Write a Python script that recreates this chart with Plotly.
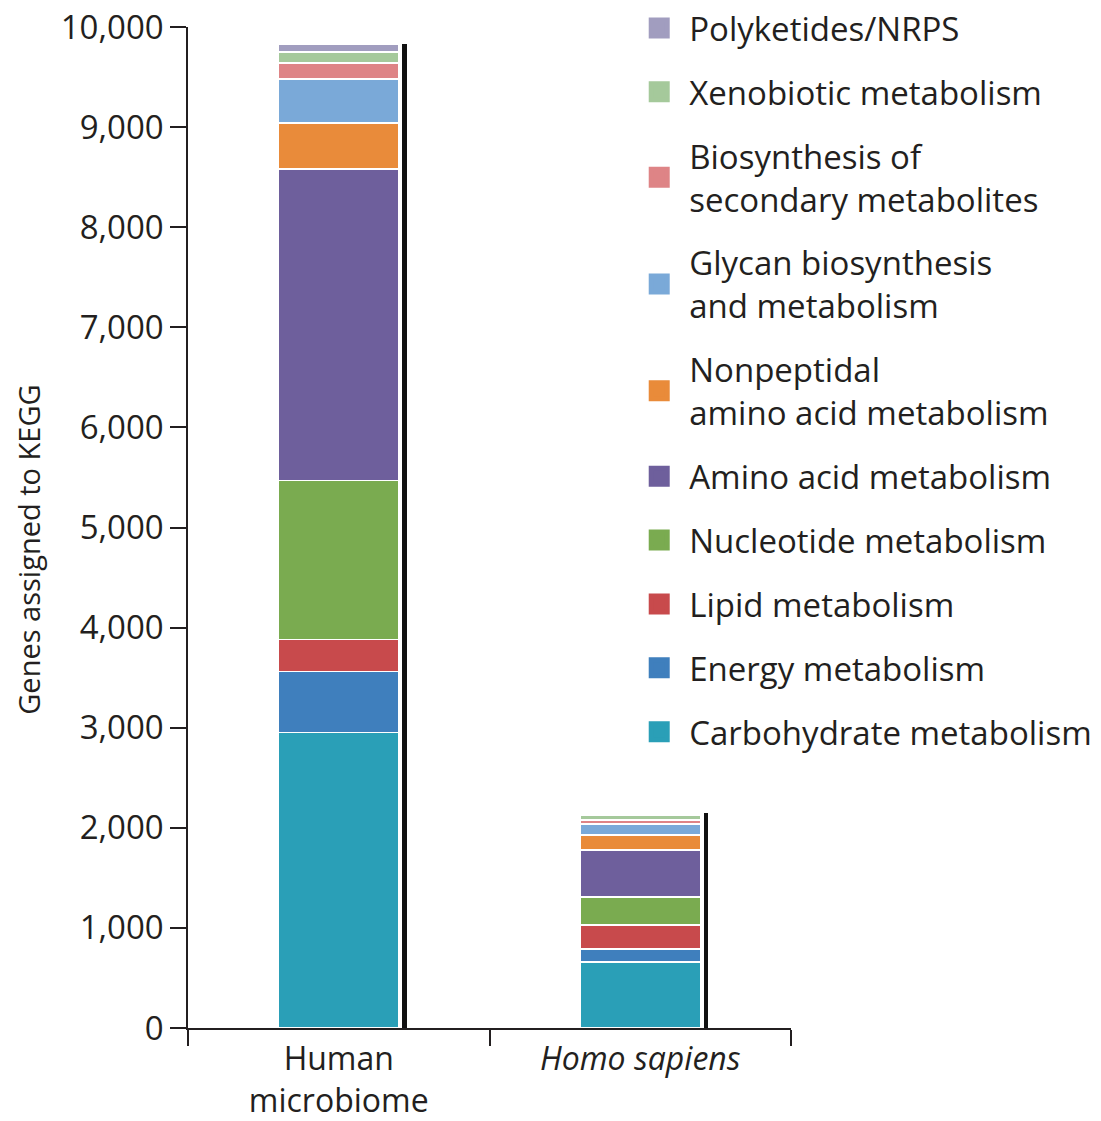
import plotly.graph_objects as go

categories = ["Human microbiome", "Homo sapiens"]
tick_labels = ["Human<br>microbiome", "<i>Homo sapiens</i>"]

series_names = [
    "Carbohydrate metabolism",
    "Energy metabolism",
    "Lipid metabolism",
    "Nucleotide metabolism",
    "Amino acid metabolism",
    "Nonpeptidal<br>amino acid metabolism",
    "Glycan biosynthesis<br>and metabolism",
    "Biosynthesis of<br>secondary metabolites",
    "Xenobiotic metabolism",
    "Polyketides/NRPS",
]
series_colors = [
    "#2a9fb7", "#3f7fbd", "#c84a4c", "#7aab50", "#6e5f9c",
    "#e98b3a", "#7aa9d8", "#de8486", "#a5c99b", "#a19dbf",
]

carbohydrate = [2950, 660]
energy = [610, 130]
lipid = [320, 240]
nucleotide = [1590, 280]
amino_acid = [3110, 470]
nonpeptidal = [460, 150]
glycan = [440, 110]
secondary = [160, 40]
xenobiotic = [110, 50]
polyketides = [80, 20]

series_values = [carbohydrate, energy, lipid, nucleotide, amino_acid,
                 nonpeptidal, glycan, secondary, xenobiotic, polyketides]

y_title = "Genes assigned to KEGG"

FONT = "Open Sans"
TXT = "#231f20"

fig = go.Figure()

for name, vals, col in zip(series_names, series_values, series_colors):
    fig.add_trace(go.Bar(
        x=categories, y=vals, name=name, width=0.4,
        marker=dict(color=col, line=dict(color="white", width=1.5)),
        showlegend=False,
    ))

# shadow line on right side of each bar
totals = [sum(v[i] for v in series_values) for i in range(len(categories))]
fig.add_trace(go.Bar(
    x=categories, y=totals, xaxis="x2", width=0.015, offset=0.21,
    marker=dict(color="#111111", line=dict(width=0)),
    showlegend=False, hoverinfo="skip",
))

# legend entries (top to bottom)
for name, col in reversed(list(zip(series_names, series_colors))):
    fig.add_trace(go.Scatter(
        x=[None], y=[None], mode="markers", name=name, legendgroup=name,
        marker=dict(symbol="square", size=16, color=col,
                    line=dict(color=col, width=5)),
    ))

fig.update_layout(
    width=1101, height=1121,
    barmode="stack",
    plot_bgcolor="white", paper_bgcolor="white",
    margin=dict(l=188, r=310, t=27, b=93, autoexpand=False),
    font=dict(family=FONT, size=33, color=TXT),
    showlegend=True,
    legend=dict(
        x=0.7317, y=1.0, xref="paper", yref="container",
        xanchor="left", yanchor="top",
        traceorder="grouped", tracegroupgap=18, maxheight=1100,
        font=dict(family=FONT, size=33, color=TXT),
        itemwidth=50, bgcolor="rgba(0,0,0,0)",
    ),
    xaxis=dict(
        type="category", categoryorder="array", categoryarray=categories,
        tickvals=categories, ticktext=tick_labels,
        range=[-0.5, 1.5], tickson="boundaries", automargin=False,
        ticks="outside", ticklen=16, tickwidth=1.5, tickcolor=TXT,
        ticklabelstandoff=2,
        showline=True, linecolor=TXT, linewidth=1.5,
        showgrid=False, zeroline=False,
        tickfont=dict(family=FONT, size=32, color=TXT),
    ),
    xaxis2=dict(
        type="category", categoryorder="array", categoryarray=categories,
        range=[-0.5, 1.5], overlaying="x", visible=False,
    ),
    yaxis=dict(
        range=[0, 10000], tickvals=list(range(0, 10001, 1000)),
        tickformat=",d", automargin=False,
        ticks="outside", ticklen=16, tickwidth=1.5, tickcolor=TXT,
        showline=True, linecolor=TXT, linewidth=1.5,
        showgrid=False, zeroline=False,
        tickfont=dict(family=FONT, size=33, color=TXT),
    ),
    annotations=[dict(
        text=y_title, textangle=-90, showarrow=False,
        xref="paper", yref="paper", x=-0.265, y=0.478,
        xanchor="center", yanchor="middle",
        font=dict(family=FONT, size=29, color=TXT),
    )],
)

fig.write_html(
    "out.html",
    config={"displayModeBar": False},
    post_script="document.body.style.margin='0';document.body.style.overflow='hidden';",
)
